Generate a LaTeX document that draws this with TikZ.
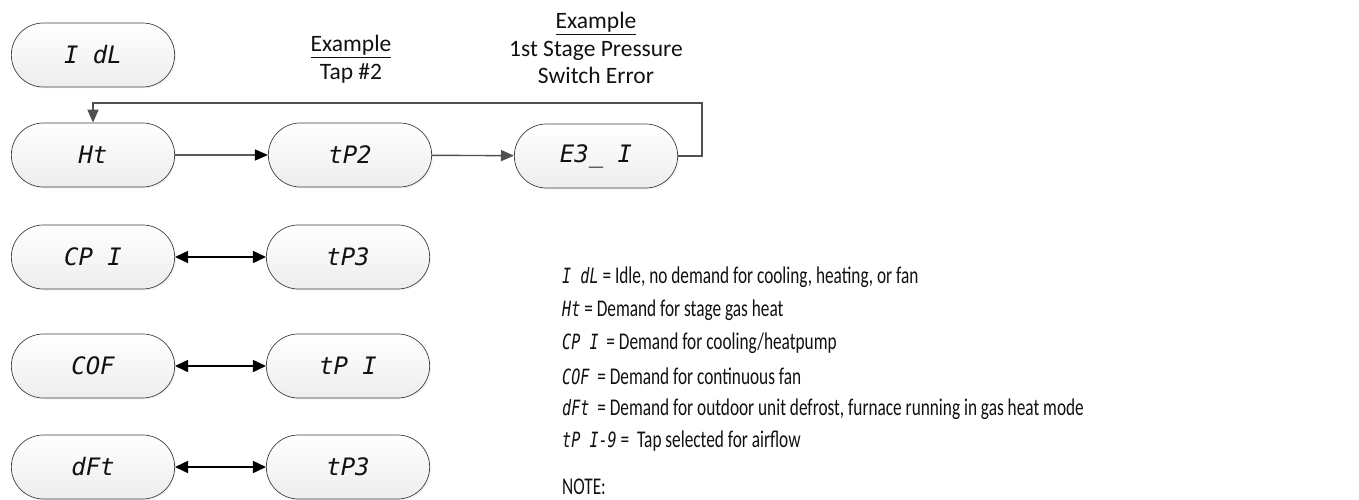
\documentclass[tikz,border=0pt]{standalone}
\usepackage{fontspec}
\setmainfont{Carlito}
\newfontfamily\segfont{DejaVu Sans Mono}
\usetikzlibrary{shapes.misc,arrows.meta,positioning,shadows}
\definecolor{boxedge}{HTML}{3F3F3F}
\definecolor{boxfill}{HTML}{EDEDED}
\definecolor{loopgray}{HTML}{505050}
\definecolor{darktext}{HTML}{111111}

\newcommand{\legline}[2]{\scalebox{0.72}[1]{{\segfont\itshape\fontsize{21}{21}\selectfont #1}~#2}}

\begin{document}
\begin{tikzpicture}[x=1pt,y=-1pt,
  dispbox/.style={rounded rectangle, draw=boxedge, line width=0.7pt,
    top color=white, bottom color=boxfill, minimum width=170pt, minimum height=64pt,
    font=\segfont\itshape\fontsize{24}{24}\selectfont, text=darktext,
    drop shadow={opacity=0.1, shadow xshift=1.5pt, shadow yshift=-1.5pt}},
  flowarrow/.style={-{Triangle[length=13pt,width=11pt]}, line width=1.4pt},
  swaparrow/.style={{Triangle[length=13pt,width=12pt]}-{Triangle[length=13pt,width=12pt]}, line width=1.6pt},
  exlabel/.style={align=center, font=\fontsize{23.5}{27.5}\selectfont, text=darktext},
  legtext/.style={anchor=west, inner sep=0pt, font=\fontsize{24}{24}\selectfont, text=darktext}]
\useasboundingbox (0,0) rectangle (1359,500);

% Idle
\node[dispbox] (idl) at (93,55) {I dL};

% Heat row
\node[dispbox] (ht) at (93,155) {Ht};
\node[dispbox] (tpa) at (350,155) {tP2};
\node[dispbox] (err) at (596,156) {E3\_ I};
\node[exlabel] (extap) at (351,59) {\underline{Example}\\Tap \#2};
\node[exlabel] (exerr) at (596,48) {\underline{Example}\\1st Stage Pressure\\Switch Error};
\draw[flowarrow] (ht) -- (tpa);
\draw[flowarrow, loopgray] (tpa) -- (err);
\coordinate (loopr) at (702,103);
\draw[flowarrow, loopgray] (err.east) -| (loopr) -| (ht.north);

% Cooling row
\node[dispbox] (cpa) at (93,257) {CP I};
\node[dispbox] (tpb) at (348,257) {tP3};
\draw[swaparrow] (cpa) -- (tpb);

% Fan row
\node[dispbox] (cof) at (93,366) {COF};
\node[dispbox] (tpc) at (348,366) {tP I};
\draw[swaparrow] (cof) -- (tpc);

% Defrost row
\node[dispbox] (dft) at (93,467) {dFt};
\node[dispbox] (tpd) at (348,467) {tP3};
\draw[swaparrow] (dft) -- (tpd);

% Legend
\node[legtext] (lega) at (562,277) {\legline{I dL}{= Idle, no demand for cooling, heating, or fan}};
\node[legtext] (legb) at (562,310) {\legline{Ht}{= Demand for stage gas heat}};
\node[legtext] (legc) at (562,343) {\legline{CP I}{ = Demand for cooling/heatpump}};
\node[legtext] (legd) at (562,376) {\legline{COF}{ = Demand for continuous fan}};
\node[legtext] (lege) at (562,409) {\legline{dFt}{ = Demand for outdoor unit defrost, furnace running in gas heat mode}};
\node[legtext] (legf) at (562,441) {\legline{tP I-9}{=~ Tap selected for airflow}};
\node[legtext] (note) at (562,487) {\scalebox{0.72}[1]{NOTE:}};
\end{tikzpicture}
\end{document}
